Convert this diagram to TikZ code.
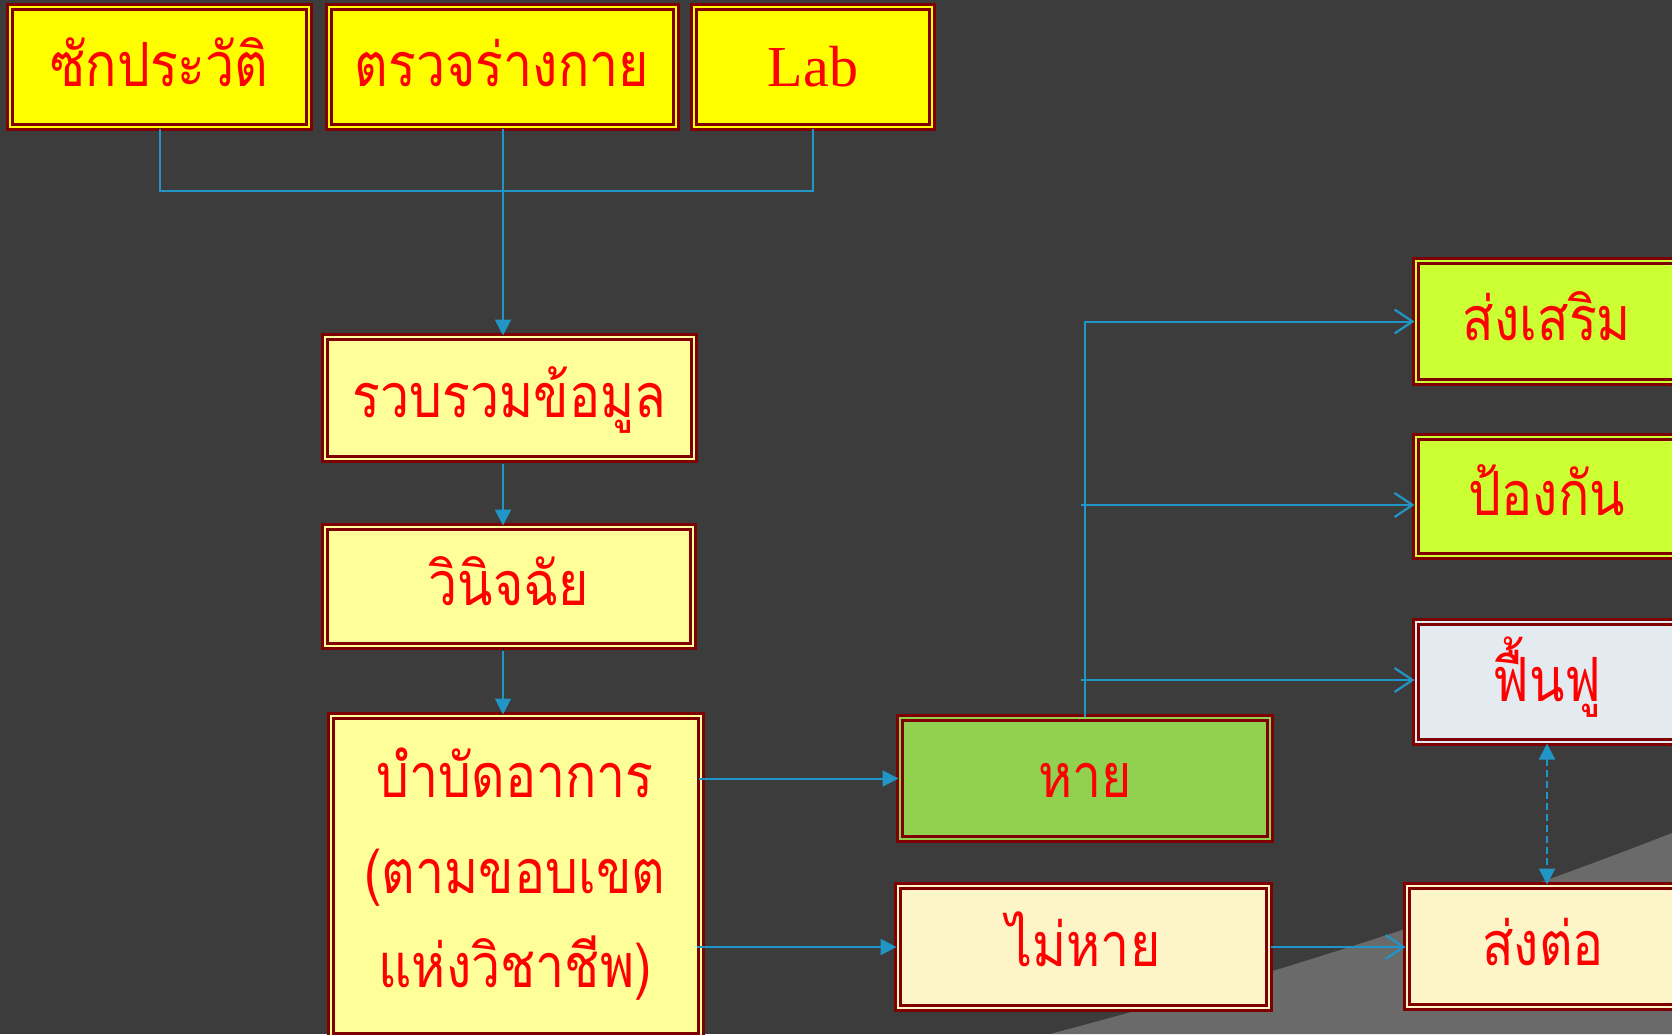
\documentclass[tikz,border=0pt]{standalone}
\usepackage{fontspec}
\usetikzlibrary{arrows.meta}
\newfontfamily\thaifont[Script=Thai,FakeStretch=0.85]{Loma}
\newfontfamily\latinserif{Liberation Serif}
\definecolor{bgc}{HTML}{3C3C3C}
\definecolor{bgl}{HTML}{6A6A6A}
\definecolor{dkred}{HTML}{7F0000}
\definecolor{cblue}{RGB}{33,150,198}
\definecolor{yel}{HTML}{FFFF00}
\definecolor{lyel}{HTML}{FFFF99}
\definecolor{chart}{HTML}{CCFF33}
\definecolor{pale}{HTML}{E3EBF0}
\definecolor{grn}{HTML}{92D050}
\definecolor{crm}{HTML}{FDF4C8}
\tikzset{
  box/.style={draw=dkred, line width=3pt, double=#1, double distance=2pt, fill=#1,
    inner sep=0pt, text=red, font=\thaifont\fontsize{61}{72}\selectfont,
    text height=38pt, text depth=0pt, align=center},
  boxtext/.style={text=red, font=\thaifont\fontsize{61}{72}\selectfont, inner sep=0pt,
    text height=38pt, text depth=0pt},
  conn/.style={draw=cblue, line width=2pt},
  tri/.style={-{Triangle[length=16pt,width=16pt]}},
  openarr/.style={-{Straight Barb[length=18pt,width=24pt,line width=2.2pt]}},
}
\begin{document}
\begin{tikzpicture}[x=1pt,y=1pt]
\fill[bgc] (0,0) rectangle (1672,-1034);
\useasboundingbox (0,0) rectangle (1672,-1034);
\fill[bgl] (1050,-1034) .. controls (1300,-968) and (1500,-900) .. (1672,-833) -- (1672,-1034) -- cycle;

% top row
\node[box=yel, minimum width=299, minimum height=120] (hist) at (159.5,-67) {ซักประวัติ};
\node[box=yel, minimum width=347, minimum height=120] (exam) at (502,-67) {ตรวจร่างกาย};
\node[box=yel, minimum width=238, minimum height=120, font=\latinserif\fontsize{58}{70}\selectfont, text height=38pt] (lab) at (813,-67) {Lab};

% middle column
\node[box=lyel, minimum width=369, minimum height=122] (gather) at (509.5,-398) {รวบรวมข้อมูล};
\node[box=lyel, minimum width=368, minimum height=119] (diag) at (509,-586.5) {วินิจฉัย};
\node[box=lyel, minimum width=370, minimum height=320] (treat) at (516,-876) {};
\node[boxtext] (treatA) at (515,-778) {บำบัดอาการ};
\node[boxtext] (treatB) at (515,-874) {(ตามขอบเขต};
\node[boxtext] (treatC) at (515,-968) {แห่งวิชาชีพ)};

% outcomes
\node[box=grn, minimum width=370, minimum height=121] (heal) at (1085,-778.5) {หาย};
\node[box=crm, minimum width=371, minimum height=122] (noheal) at (1083.5,-947) {ไม่หาย};

% right column
\node[box=chart, minimum width=262, minimum height=121] (promote) at (1547,-321.5) {ส่งเสริม};
\node[box=chart, minimum width=262, minimum height=119] (prevent) at (1547,-496.5) {ป้องกัน};
\node[box=pale, minimum width=262, minimum height=120] (rehab) at (1547,-682) {ฟื้นฟู};
\node[box=crm, minimum width=272, minimum height=121] (refer) at (1543,-946.5) {ส่งต่อ};

% connectors
\coordinate (j) at (503,-191);
\draw[conn] (hist.south) |- (j) -| (lab.south);
\draw[conn,tri] (exam.south -| j) -- (gather.north -| j);
\draw[conn,tri] ([yshift=-3pt]gather.south -| j) -- (diag.north -| j);
\draw[conn,tri] ([yshift=-3pt]diag.south -| j) -- (treat.north -| j);
\draw[conn,tri] ([xshift=-4pt]treat.east |- heal.west) -- (heal.west);
\draw[conn,tri] ([xshift=-6pt]treat.east |- noheal.west) -- (noheal.west);
\draw[conn,openarr] (noheal.east) -- (refer.west |- noheal.east);
\draw[conn,openarr] (heal.north) |- (promote.west);
\coordinate (p1) at (1081,-505);
\coordinate (p2) at (1081,-680);
\draw[conn,openarr] (p1) -- (p1 -| prevent.west);
\draw[conn,openarr] (p2) -- (p2 -| rehab.west);
\draw[conn, dash pattern=on 7pt off 4pt, {Triangle[length=16pt,width=16pt]}-{Triangle[length=16pt,width=16pt]}] (rehab.south) -- (refer.north -| rehab.south);
\end{tikzpicture}
\end{document}
